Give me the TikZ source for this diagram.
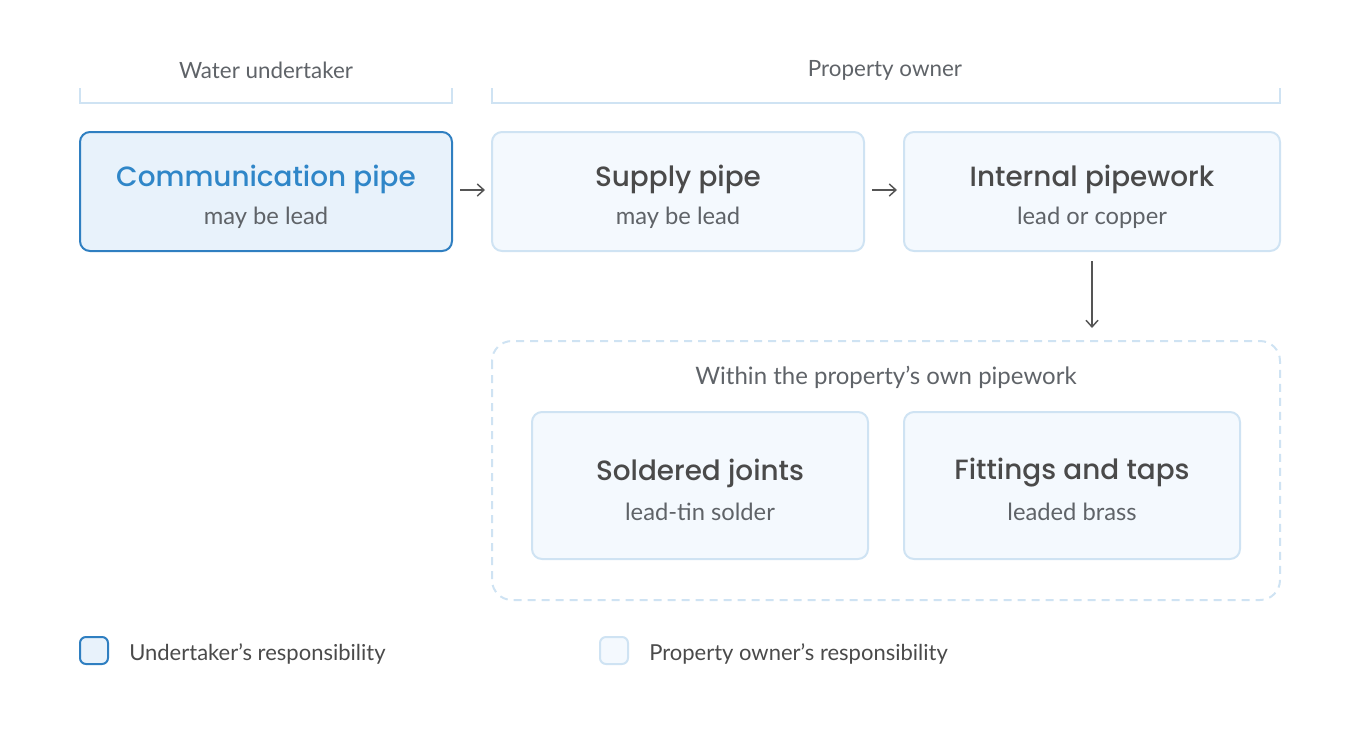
\documentclass[tikz,border=0pt]{standalone}
\usepackage{fontspec}
\setmainfont{Lato}
\newfontfamily\titlefont{Poppins}[UprightFont=*-Medium]
\usetikzlibrary{arrows.meta}
\definecolor{strongblue}{HTML}{2F7FC1}
\definecolor{titleblue}{HTML}{2F86C8}
\definecolor{strongfill}{HTML}{E8F2FB}
\definecolor{lightline}{HTML}{CFE3F3}
\definecolor{lightfill}{HTML}{F4F9FE}
\definecolor{darktext}{HTML}{4A4A4A}
\definecolor{subtext}{HTML}{5F6368}
\definecolor{arrowgray}{HTML}{555555}
\tikzset{
  ownerbox/.style={draw=lightline, line width=1.5pt, fill=lightfill, rounded corners=7.5pt},
  underbox/.style={draw=strongblue, line width=1.5pt, fill=strongfill, rounded corners=7.5pt},
  boxtitle/.style={font=\titlefont\fontsize{20.9}{25}\selectfont, text=darktext, inner sep=0pt},
  boxsub/.style={font=\fontsize{17.8}{21}\selectfont, text=subtext, inner sep=0pt},
  header/.style={font=\fontsize{16.8}{20}\selectfont, text=subtext, inner sep=0pt},
  grouplabel/.style={font=\fontsize{18}{21}\selectfont, text=subtext, inner sep=0pt},
  legendtext/.style={font=\fontsize{16.5}{20}\selectfont, text=darktext, inner sep=0pt, anchor=west},
  flow/.style={draw=arrowgray, line width=1.1pt, -{Straight Barb[length=5pt,width=9pt]}},
  bracket/.style={draw=lightline, line width=1.5pt}
}
\begin{document}
\begin{tikzpicture}[x=0.75pt,y=-0.75pt]
\useasboundingbox (0,0) rectangle (1360,744);
% headers
\node[header] (hwater) at (266,70) {Water undertaker};
\node[header] (howner) at (885,70) {Property owner};
\draw[bracket] (80,88) -- (80,103) -- (452,103) -- (452,88);
\draw[bracket] (492,88) -- (492,103) -- (1280,103) -- (1280,88);
% container
\draw[draw=lightline, line width=1.5pt, dashed, dash pattern=on 6pt off 4.5pt, rounded corners=15pt] (492,341) rectangle (1280,600);
\node[grouplabel] (within) at (886,377.5) {Within the property’s own pipework};
% top boxes
\draw[underbox] (80,132) rectangle (452,251);
\node[boxtitle, text=titleblue] (commt) at (266,179) {Communication pipe};
\node[boxsub] (comms) at (266,218) {may be lead};
\draw[ownerbox] (492,132) rectangle (864,251);
\node[boxtitle] (supt) at (678,179) {Supply pipe};
\node[boxsub] (sups) at (678,218) {may be lead};
\draw[ownerbox] (904,132) rectangle (1280,251);
\node[boxtitle] (intt) at (1092,179) {Internal pipework};
\node[boxsub] (ints) at (1092,218) {lead or copper};
% bottom boxes
\draw[ownerbox] (532,412) rectangle (868,559);
\node[boxtitle] (solt) at (700,473) {Soldered joints};
\node[boxsub] (sols) at (700,512) {lead-tin solder};
\draw[ownerbox] (904,412) rectangle (1240,559);
\node[boxtitle] (fitt) at (1072,473) {Fittings and taps};
\node[boxsub] (fits) at (1072,512) {leaded brass};
% arrows
\coordinate (a1s) at (460,190); \coordinate (a1e) at (485,190);
\coordinate (a2s) at (872,190); \coordinate (a2e) at (897,190);
\coordinate (a3s) at (1092,261); \coordinate (a3e) at (1092,328);
\draw[flow] (a1s) -- (a1e);
\draw[flow] (a2s) -- (a2e);
\draw[flow] (a3s) -- (a3e);
% legend
\draw[underbox, rounded corners=4.5pt] (80,637) rectangle (108,664);
\node[legendtext] (leg1) at (129,654) {Undertaker’s responsibility};
\draw[ownerbox, rounded corners=4.5pt] (600,637) rectangle (628,664);
\node[legendtext] (leg2) at (649,654) {Property owner’s responsibility};
\end{tikzpicture}
\end{document}
